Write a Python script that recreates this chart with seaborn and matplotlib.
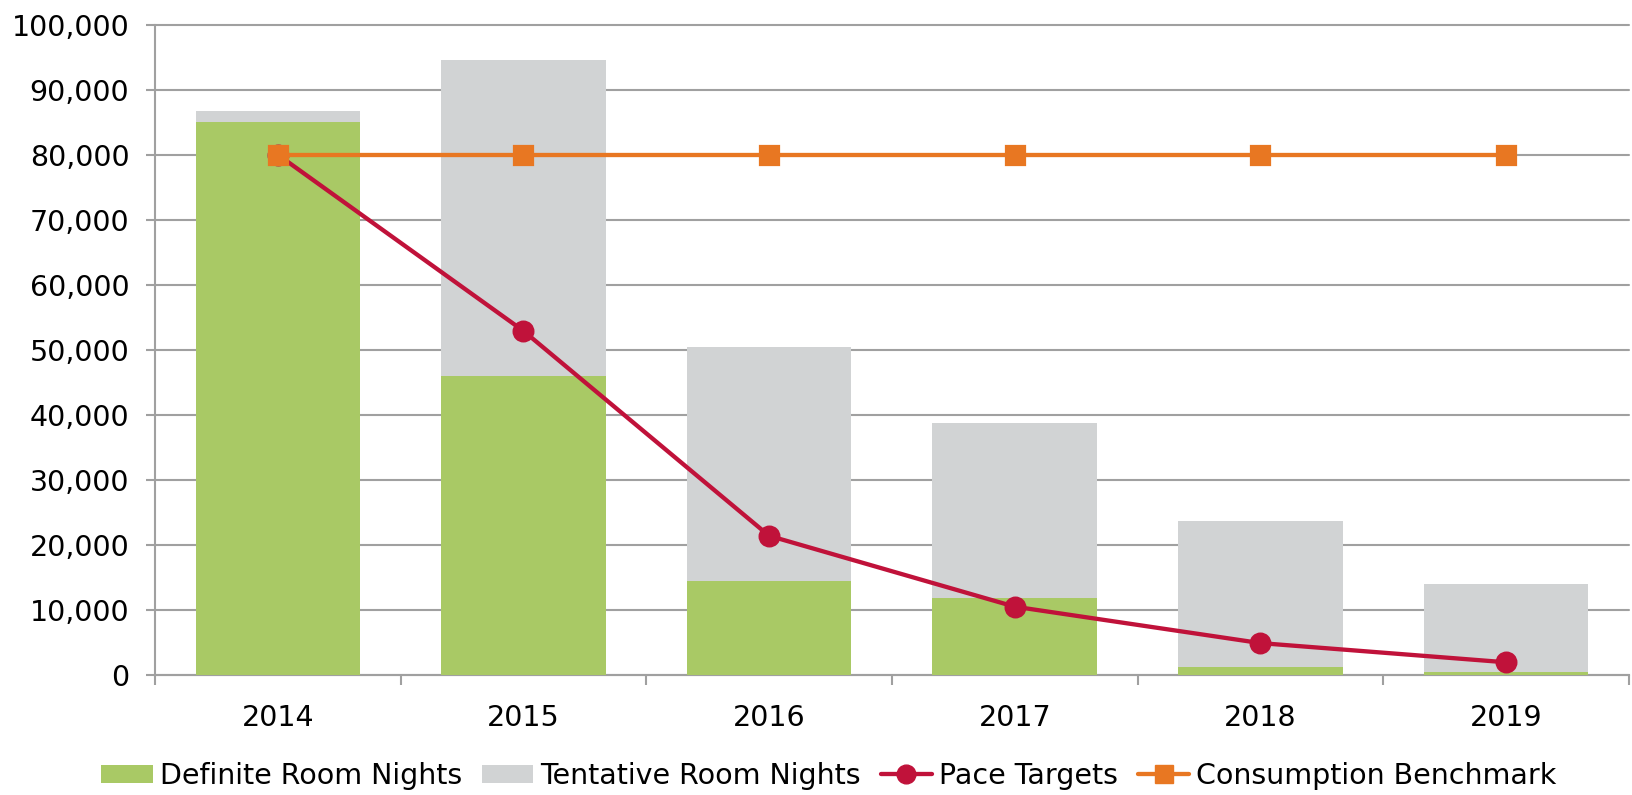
import matplotlib
matplotlib.use("Agg")
import matplotlib.pyplot as plt
import seaborn as sns
import pandas as pd
import numpy as np
from matplotlib.patches import Patch
from matplotlib.lines import Line2D
from matplotlib.ticker import FuncFormatter, FixedLocator

years = ["2014", "2015", "2016", "2017", "2018", "2019"]
definite = [85000, 46000, 14500, 11800, 1200, 450]
tentative = [1700, 48600, 35900, 26900, 22400, 13550]
pace_targets = [80000, 52900, 21400, 10500, 4900, 1950]
consumption_benchmark = [80000, 80000, 80000, 80000, 80000, 80000]

GREEN = "#A9C965"
GRAY = "#D1D3D4"
RED = "#C0123A"
ORANGE = "#E87722"
GRID = "#A0A0A0"
FS = 20.5

sns.set_theme(style="white")
plt.rcParams["font.family"] = ["DejaVu Sans"]
plt.rcParams["text.color"] = "black"

df = pd.DataFrame({
    "year": years,
    "definite": definite,
    "tentative": tentative,
    "pace": pace_targets,
    "bench": consumption_benchmark,
})
df["total"] = df["definite"] + df["tentative"]

fig, ax = plt.subplots(figsize=(16.32, 7.95), dpi=100)
fig.subplots_adjust(left=0.095, right=0.998, top=0.969, bottom=0.151)

sns.barplot(data=df, x="year", y="total", color=GRAY, width=0.67,
            saturation=1, ax=ax, zorder=2, linewidth=0)
sns.barplot(data=df, x="year", y="definite", color=GREEN, width=0.67,
            saturation=1, ax=ax, zorder=3, linewidth=0)
sns.pointplot(data=df, x="year", y="pace", color=RED, markers="o",
              linestyles="-", ax=ax, zorder=4,
              linewidth=3.1, markersize=13.5)
sns.pointplot(data=df, x="year", y="bench", color=ORANGE, markers="s",
              linestyles="-", ax=ax, zorder=5,
              linewidth=3.1, markersize=12.5)

ax.set_xlim(-0.5, 5.5)
ax.set_ylim(0, 100000)
ax.set_yticks(np.arange(0, 100001, 10000))
ax.yaxis.set_major_formatter(FuncFormatter(lambda v, p: f"{int(v):,}"))
ax.set_xlabel("")
ax.set_ylabel("")

ax.grid(axis="y", color=GRID, linewidth=1.5, zorder=0)
ax.set_axisbelow(True)
for gl in ax.get_ygridlines():
    gl.set_clip_on(False)
for s in ["top", "right"]:
    ax.spines[s].set_visible(False)
for s in ["left", "bottom"]:
    ax.spines[s].set_visible(True)
    ax.spines[s].set_color(GRID)
    ax.spines[s].set_linewidth(1.5)

ax.xaxis.set_minor_locator(FixedLocator(np.arange(-0.5, 5.6, 1.0)))
ax.tick_params(axis="x", which="major", length=0, pad=21, labelsize=FS,
               labelcolor="black")
ax.tick_params(axis="x", which="minor", length=7, width=1.5, color=GRID,
               direction="out", bottom=True)
ax.tick_params(axis="y", which="major", length=6.5, width=1.5, color=GRID,
               direction="out", pad=12, labelsize=FS, labelcolor="black",
               left=True)

handles = [
    Patch(facecolor=GREEN, edgecolor="none", label="Definite Room Nights"),
    Patch(facecolor=GRAY, edgecolor="none", label="Tentative Room Nights"),
    Line2D([0], [0], color=RED, lw=3.1, marker="o", markersize=13.5,
           label="Pace Targets"),
    Line2D([0], [0], color=ORANGE, lw=3.1, marker="s", markersize=12.5,
           label="Consumption Benchmark"),
]
leg = fig.legend(handles=handles, loc="center", bbox_to_anchor=(0.508, 0.024),
                 ncol=4, frameon=False, fontsize=FS, handlelength=1.8,
                 handleheight=0.6, handletextpad=0.25, columnspacing=0.7)
for t in leg.get_texts():
    t.set_color("black")

fig.savefig("out.png", dpi=100)
